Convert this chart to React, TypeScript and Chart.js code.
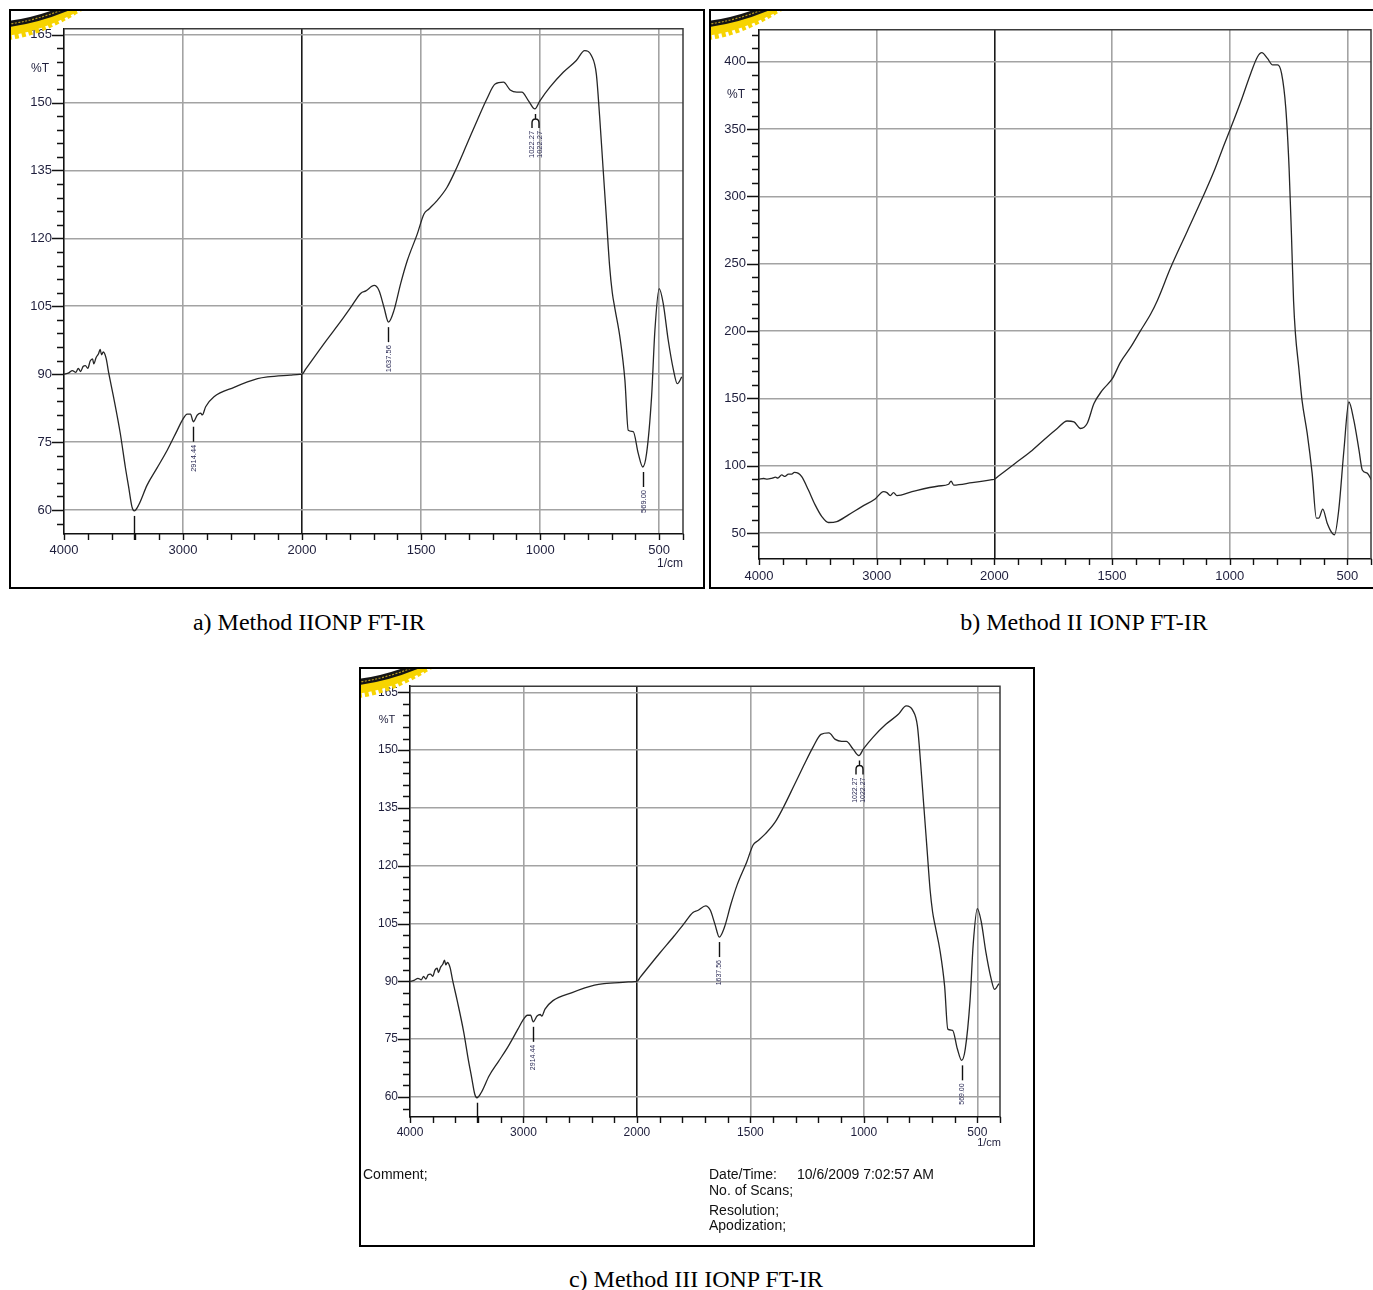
import React, { useEffect, useRef } from 'react';
import { Chart, registerables } from 'chart.js';
Chart.register(...registerables);

// ---- Data: wavenumber (1/cm) and %T ----
// Panel a (Method IIONP) and panel c (Method III) show the same spectrum
const wnA = [4000, 3960, 3930, 3900, 3880, 3860, 3840, 3820, 3800, 3780, 3760, 3750, 3730, 3710, 3696, 3685, 3670, 3646, 3626, 3584, 3527, 3485, 3457, 3429, 3410, 3373, 3302, 3218, 3133, 3049, 3007, 2965, 2937, 2914, 2880, 2852, 2838, 2810, 2740, 2571, 2374, 2290, 2100, 2020, 2000, 1985, 1900, 1837, 1795, 1753, 1732, 1697, 1677, 1656, 1637, 1614, 1586, 1558, 1516, 1488, 1467, 1432, 1391, 1356, 1307, 1265, 1224, 1189, 1154, 1126, 1098, 1077, 1049, 1022, 1001, 959, 903, 848, 813, 785, 764, 750, 736, 722, 708, 697, 686, 665, 644, 630, 609, 588, 569, 553, 532, 518, 500, 483, 462, 440, 424, 405];
const tA = [90.0, 90.3, 90.8, 90.4, 91.3, 90.6, 91.7, 91.9, 91.3, 92.9, 93.4, 92.3, 93.7, 94.5, 95.5, 94.3, 94.9, 93.5, 90.5, 85.0, 76.9, 69.5, 65.1, 60.7, 59.8, 61.1, 65.5, 69.3, 73.2, 77.6, 79.8, 81.2, 81.2, 79.5, 81.0, 81.4, 81.0, 82.8, 85.0, 87.1, 89.0, 89.4, 89.8, 89.95, 90.0, 91.1, 97.3, 101.7, 104.8, 107.9, 108.4, 109.6, 108.5, 104.8, 101.5, 104.1, 110.0, 115.1, 121.0, 125.4, 126.5, 128.4, 131.3, 135.0, 140.9, 146.0, 150.8, 154.1, 154.5, 152.8, 152.3, 152.3, 150.4, 148.6, 150.4, 153.4, 156.7, 159.3, 161.5, 160.4, 156.3, 146.8, 135.7, 124.7, 113.7, 108.0, 104.5, 98.2, 88.7, 77.6, 77.3, 72.5, 69.5, 72.5, 85.0, 99.7, 108.9, 105.6, 97.5, 90.9, 87.9, 89.4];

// Panel b (Method II IONP)
const wnB = [4000, 3960, 3930, 3892, 3860, 3840, 3807, 3780, 3750, 3722, 3700, 3665, 3637, 3580, 3523, 3466, 3410, 3339, 3240, 3126, 3013, 2942, 2913, 2885, 2857, 2828, 2700, 2474, 2389, 2368, 2346, 2190, 2020, 2000, 1985, 1911, 1847, 1783, 1733, 1691, 1662, 1634, 1606, 1577, 1542, 1499, 1464, 1421, 1379, 1336, 1308, 1251, 1180, 1116, 1067, 1024, 996, 953, 911, 882, 864, 840, 818, 797, 780, 762, 748, 738, 729, 721, 707, 693, 671, 650, 632, 622, 605, 586, 565, 555, 537, 515, 494, 473, 451, 437, 415, 398];
const tB = [89.9, 90.5, 90.0, 90.6, 91.5, 90.8, 93.1, 92.0, 93.8, 93.8, 95.0, 94.3, 91.8, 81.9, 70.9, 62.2, 57.8, 58.5, 63.5, 69.6, 75.3, 80.7, 80.0, 77.8, 80.0, 77.8, 80.7, 84.9, 86.2, 88.6, 85.6, 87.4, 89.6, 89.9, 91.9, 101.8, 110.3, 120.2, 127.6, 133.2, 132.5, 127.6, 131.3, 146.1, 155.9, 164.6, 176.9, 188.0, 200.3, 212.6, 222.5, 247.1, 274.3, 298.9, 318.6, 338.4, 350.7, 370.4, 391.3, 403.7, 406.7, 402.5, 397.6, 397.6, 391.3, 365.5, 321.1, 271.8, 222.5, 197.9, 173.2, 148.5, 124.0, 94.3, 61.0, 61.0, 67.7, 57.3, 49.9, 48.7, 67.2, 111.6, 147.3, 133.8, 111.6, 96.8, 94.3, 89.4];

// Peak markers (panels a and c)
const peakWn = [3410, 2914.44, 1637.56, 1022.27, 569.0];
const peakT = [59.8, 79.5, 101.5, 148.6, 69.5];
const peakLabel = ['', '2914.44', '1637.56', '1022.27', '569.00'];
const peakDouble = [false, false, false, true, false];

// x tick labels (wavenumbers)
const xTickWn = [4000, 3000, 2000, 1500, 1000, 500];

// Shimadzu-style split axis: 4000-2000 compressed 2x
const toU = (w: number) => (w >= 2000 ? (4000 - w) / 2 : 1000 + (2000 - w));

const SANS = '"Liberation Sans", Arial, sans-serif';
const LABEL_COLOR = '#1e1e3c';

interface Rect { x: number; y: number; w: number; h: number }
interface Area { l: number; t: number; r: number; b: number }
interface PanelDef {
  wn: number[]; t: number[];
  yMin: number; yMax: number; yStep: number; yLabelEvery: number;
  cv: Rect; area: Area;
  font: number; annFont: number;
  xPad: number; yPad: number;
  pctT: [number, number];
  perCm?: [number, number];
  peaks: boolean;
}

const panels: PanelDef[] = [
  {
    wn: wnA, t: tA, yMin: 54.7, yMax: 166.3, yStep: 3, yLabelEvery: 15,
    cv: { x: 9, y: 9, w: 696, h: 580 }, area: { l: 64, t: 28, r: 683, b: 534 },
    font: 13, annFont: 7.5, xPad: 9, yPad: 12, pctT: [31, 60], perCm: [674, 555], peaks: true,
  },
  {
    wn: wnB, t: tB, yMin: 30.7, yMax: 423.7, yStep: 10, yLabelEvery: 50,
    cv: { x: 709, y: 9, w: 664, h: 580 }, area: { l: 759, t: 28, r: 1371, b: 559 },
    font: 13, annFont: 7.5, xPad: 10, yPad: 13, pctT: [27, 86], peaks: false,
  },
  {
    wn: wnA, t: tA, yMin: 54.8, yMax: 166.6, yStep: 3, yLabelEvery: 15,
    cv: { x: 359, y: 667, w: 676, h: 580 }, area: { l: 410, t: 686, r: 1000, b: 1117 },
    font: 12, annFont: 7, xPad: 8, yPad: 12, pctT: [28, 53], perCm: [642, 476], peaks: true,
  },
];

const isMult = (v: number, m: number) => Math.abs(v / m - Math.round(v / m)) < 1e-6;

function SpectrumChart({ def }: { def: PanelDef }) {
  const ref = useRef<HTMLCanvasElement>(null);
  useEffect(() => {
    const { cv, area } = def;
    const padTop = area.t - cv.y;
    const padRight = cv.x + cv.w - area.r;
    const yW = area.l - cv.x;
    const xH = cv.y + cv.h - area.b;
    const xLabelU = xTickWn.map(toU);

    const framePlugin = {
      id: 'frame',
      afterDraw(chart: any) {
        const { ctx, chartArea: a } = chart;
        const xs = chart.scales.x;
        const ys = chart.scales.y;
        ctx.save();
        ctx.strokeStyle = '#3a3a3a';
        ctx.lineWidth = 1.5;
        ctx.beginPath();
        ctx.moveTo(a.left, a.top);
        ctx.lineTo(a.right, a.top);
        ctx.lineTo(a.right, a.bottom);
        ctx.stroke();
        ctx.strokeStyle = '#111';
        ctx.lineWidth = 1.4;
        ctx.beginPath();
        ys.ticks.forEach((t: any) => {
          const p = Math.round(ys.getPixelForValue(t.value)) + 0.5;
          const len = isMult(t.value, def.yLabelEvery) ? 12 : 7;
          ctx.moveTo(a.left - len, p);
          ctx.lineTo(a.left, p);
        });
        xs.ticks.forEach((t: any) => {
          const p = Math.round(xs.getPixelForValue(t.value)) + 0.5;
          ctx.moveTo(p, a.bottom);
          ctx.lineTo(p, a.bottom + 6);
        });
        ctx.stroke();
        ctx.fillStyle = LABEL_COLOR;
        ctx.font = `${def.font - 1}px ${SANS}`;
        ctx.textAlign = 'center';
        ctx.textBaseline = 'middle';
        ctx.fillText('%T', def.pctT[0], def.pctT[1]);
        if (def.perCm) {
          ctx.textAlign = 'right';
          ctx.fillText('1/cm', def.perCm[0], def.perCm[1]);
        }
        if (def.peaks) {
          ctx.strokeStyle = '#111';
          ctx.lineWidth = 1.4;
          ctx.fillStyle = '#2a2a55';
          ctx.font = `${def.annFont}px ${SANS}`;
          peakWn.forEach((w, i) => {
            const x = Math.round(xs.getPixelForValue(toU(w))) + 0.5;
            const y0 = ys.getPixelForValue(peakT[i]) + 5;
            const drawLabel = (lx: number, ly: number) => {
              ctx.save();
              ctx.translate(lx, ly);
              ctx.rotate(-Math.PI / 2);
              ctx.textAlign = 'right';
              ctx.textBaseline = 'middle';
              ctx.fillText(peakLabel[i], 0, 0);
              ctx.restore();
            };
            ctx.beginPath();
            if (!peakLabel[i]) {
              ctx.moveTo(x, y0);
              ctx.lineTo(x, a.bottom + 6);
              ctx.stroke();
            } else if (peakDouble[i]) {
              ctx.moveTo(x, y0);
              ctx.lineTo(x, y0 + 5);
              ctx.moveTo(x - 3.5, y0 + 14);
              ctx.lineTo(x - 3.5, y0 + 9);
              ctx.quadraticCurveTo(x - 3.5, y0 + 5, x, y0 + 5);
              ctx.quadraticCurveTo(x + 3.5, y0 + 5, x + 3.5, y0 + 9);
              ctx.lineTo(x + 3.5, y0 + 14);
              ctx.stroke();
              drawLabel(x - 4, y0 + 17);
              drawLabel(x + 4, y0 + 17);
            } else {
              ctx.moveTo(x, y0);
              ctx.lineTo(x, y0 + 15);
              ctx.stroke();
              drawLabel(x, y0 + 18);
            }
          });
        }
        ctx.restore();
      },
    };

    const chart = new Chart(ref.current as HTMLCanvasElement, {
      type: 'line',
      data: {
        datasets: [
          {
            data: def.wn.map((w, i) => ({ x: toU(w), y: def.t[i] })),
            borderColor: '#262626',
            borderWidth: 1.3,
            pointRadius: 0,
            fill: false,
            cubicInterpolationMode: 'monotone',
          },
        ],
      },
      options: {
        animation: false,
        responsive: false,
        maintainAspectRatio: false,
        events: [],
        layout: { padding: { top: padTop, right: padRight, left: 0, bottom: 0 } },
        plugins: { legend: { display: false }, tooltip: { enabled: false }, title: { display: false } },
        scales: {
          x: {
            type: 'linear',
            min: 0,
            max: 2600,
            afterFit: (s: any) => { s.height = xH; s.paddingRight = 0; },
            ticks: {
              stepSize: 100,
              autoSkip: false,
              maxRotation: 0,
              minRotation: 0,
              includeBounds: false,
              padding: def.xPad,
              color: LABEL_COLOR,
              font: { family: SANS, size: def.font },
              callback: (v: any) => {
                const idx = xLabelU.findIndex((u) => Math.abs(u - Number(v)) < 1e-6);
                return idx >= 0 ? String(xTickWn[idx]) : '';
              },
            },
            grid: {
              drawTicks: false,
              lineWidth: 1.6,
              color: (c: any) => {
                const v = c.tick ? c.tick.value : -1;
                if (v <= 0 || v >= 2600) return 'rgba(0,0,0,0)';
                if (Math.abs(v - 1000) < 1e-6) return '#1a1a1a';
                return isMult(v, 500) ? '#a3a3a3' : 'rgba(0,0,0,0)';
              },
            },
            border: { display: true, color: '#111', width: 1.6 },
          },
          y: {
            type: 'linear',
            min: def.yMin,
            max: def.yMax,
            afterFit: (s: any) => { s.width = yW; },
            ticks: {
              stepSize: def.yStep,
              autoSkip: false,
              includeBounds: false,
              padding: def.yPad,
              color: LABEL_COLOR,
              font: { family: SANS, size: def.font },
              callback: (v: any) => (isMult(Number(v), def.yLabelEvery) ? String(Math.round(Number(v))) : ''),
            },
            grid: {
              drawTicks: false,
              lineWidth: 1.6,
              color: (c: any) => (c.tick && isMult(c.tick.value, def.yLabelEvery) ? '#a3a3a3' : 'rgba(0,0,0,0)'),
            },
            border: { display: true, color: '#111', width: 1.6 },
          },
        },
      } as any,
      plugins: [framePlugin],
    });
    return () => chart.destroy();
  }, [def]);
  const { cv } = def;
  return (
    <canvas
      ref={ref}
      width={cv.w}
      height={cv.h}
      style={{ position: 'absolute', left: cv.x, top: cv.y, width: cv.w, height: cv.h }}
    />
  );
}

function Logo({ x, y }: { x: number; y: number }) {
  return (
    <svg width={72} height={34} style={{ position: 'absolute', left: x, top: y, overflow: 'hidden' }}>
      <path d="M -3 26 Q 28 23 70 -3" stroke="#f7d400" strokeWidth={6} fill="none" strokeDasharray="4 3" />
      <path d="M -3 20 Q 26 17 64 -3" stroke="#f7d400" strokeWidth={9} fill="none" />
      <path d="M -3 13 Q 24 10 56 -3" stroke="#151515" strokeWidth={6} fill="none" />
      <path d="M -3 13 Q 24 10 56 -3" stroke="#b89a20" strokeWidth={1.2} fill="none" strokeDasharray="2 1.5" />
    </svg>
  );
}

const borderBox = (left: number, top: number, width: number, height: number): React.CSSProperties => ({
  position: 'absolute', left, top, width, height, border: '2px solid #000', boxSizing: 'border-box', pointerEvents: 'none',
});

const captionStyle = (cx: number, top: number): React.CSSProperties => ({
  position: 'absolute', left: cx - 300, top, width: 600, textAlign: 'center',
  fontFamily: '"Liberation Serif", "Times New Roman", serif', fontSize: 24, lineHeight: '28px', color: '#000', whiteSpace: 'nowrap',
});

const infoStyle = (left: number, top: number): React.CSSProperties => ({
  position: 'absolute', left, top, fontFamily: SANS, fontSize: 14, lineHeight: '16px', color: '#111', whiteSpace: 'nowrap',
});

export default function App() {
  return (
    <div style={{ position: 'absolute', left: 0, top: 0, width: 1373, height: 1290, overflow: 'hidden', background: '#fff' }}>
      {panels.map((p, i) => (
        <SpectrumChart key={i} def={p} />
      ))}
      <div style={borderBox(9, 9, 696, 580)} />
      <div style={borderBox(709, 9, 700, 580)} />
      <div style={borderBox(359, 667, 676, 580)} />
      <Logo x={11} y={11} />
      <Logo x={711} y={11} />
      <Logo x={361} y={669} />
      <div style={infoStyle(363, 1166)}>Comment;</div>
      <div style={infoStyle(709, 1166)}>Date/Time:</div>
      <div style={infoStyle(797, 1166)}>10/6/2009 7:02:57 AM</div>
      <div style={infoStyle(709, 1182)}>No. of Scans;</div>
      <div style={infoStyle(709, 1202)}>Resolution;</div>
      <div style={infoStyle(709, 1217)}>Apodization;</div>
      <div style={captionStyle(309, 608)}>a) Method IIONP FT-IR</div>
      <div style={captionStyle(1084, 608)}>b) Method II IONP FT-IR</div>
      <div style={captionStyle(696, 1265)}>c) Method III IONP FT-IR</div>
    </div>
  );
}
